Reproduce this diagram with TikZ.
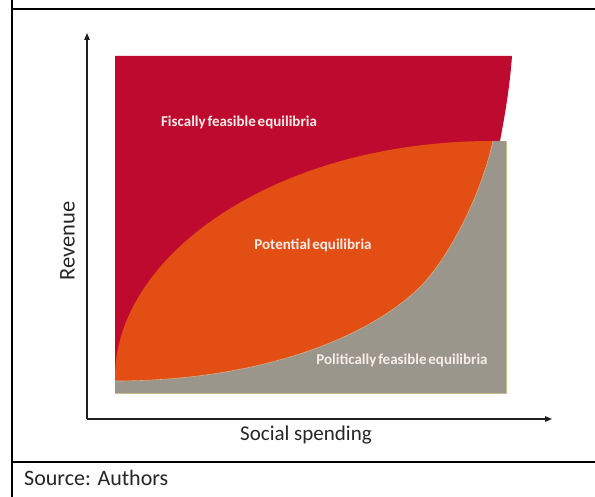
\documentclass[tikz,border=0pt]{standalone}
\usepackage{fontspec}
\setmainfont{Carlito}
\usetikzlibrary{arrows.meta}
\definecolor{redc}{HTML}{BE0A2F}
\definecolor{orangec}{HTML}{E34E15}
\definecolor{grayc}{HTML}{9B968C}
\definecolor{edgec}{HTML}{C9BC8E}
\definecolor{labelc}{HTML}{F7EDE8}
\definecolor{axisc}{HTML}{202020}
\newcommand\mytightspace{\spaceskip 1.8pt\relax}
\tikzset{
  frameline/.style={line width=2pt, black},
  axisline/.style={line width=1.1pt, axisc, -{Triangle[length=7pt,width=5.5pt]}},
  inlabel/.style={text=labelc, font=\fontsize{15}{17}\selectfont\bfseries\mytightspace, inner sep=0pt},
  axlabel/.style={text=black!85, font=\fontsize{22}{24}\selectfont, inner sep=0pt},
}
\begin{document}
\begin{tikzpicture}[x=1pt,y=-1pt]
\useasboundingbox (0,0) rectangle (595,497);
\fill[white] (0,0) rectangle (595,497);
% frame
\coordinate (tl) at (11.5,9);
\coordinate (tr) at (595,9);
\coordinate (lt) at (11.5,0);
\coordinate (lb) at (11.5,497);
\coordinate (sl) at (11.5,462);
\coordinate (sr) at (595,462);
\draw[frameline] (lt) -- (lb);
\draw[frameline] (tl) -- (tr);
\draw[frameline] (sl) -- (sr);
% key points of the regions
\coordinate (LL) at (115,381);
\coordinate (LU) at (115,377);
\coordinate (M) at (417,290);
\coordinate (T) at (493,141);
% regions
\fill[grayc] (115,141) rectangle (506,393);
\draw[edgec, line width=0.8pt] (506,141) -- (506,393) -- (115,393);
\fill[redc] (115,56) -- (512,56) .. controls (510,85) and (505,115) .. (500,141) -- (T)
  .. controls (480,200) and (445,264) .. (M)
  .. controls (360,343) and (250,381) .. (LL)
  -- cycle;
\begin{scope}
\clip (115,141) rectangle (506,393);
\fill[orangec] (LL) .. controls (250,381) and (360,343) .. (M)
  .. controls (445,264) and (480,200) .. (T)
  .. controls (273,141) and (115,257) .. (LU) -- cycle;
\draw[edgec, line width=0.6pt] (LL) .. controls (250,381) and (360,343) .. (M)
  .. controls (445,264) and (480,200) .. (T);
\end{scope}
% labels
\node[inlabel] (fisc) at (239,122) {Fiscally feasible equilibria};
\node[inlabel] (pot) at (313,245) {Potential equilibria};
\node[inlabel] (pol) at (402,360) {Politically feasible equilibria};
% axes
\coordinate (O) at (87,419);
\coordinate (ytip) at (87,33);
\coordinate (xtip) at (552,419);
\draw[axisline] (O) -- (ytip);
\draw[axisline] (O) -- (xtip);
\node[axlabel, rotate=90, font=\fontsize{22.5}{24}\selectfont] (rev) at (67.5,241) {Revenue};
\node[axlabel, font=\fontsize{21}{23}\selectfont] (soc) at (306,435) {Social spending};
\node[axlabel, anchor=west] (src) at (24,478) {Source: Authors};
\end{tikzpicture}
\end{document}
